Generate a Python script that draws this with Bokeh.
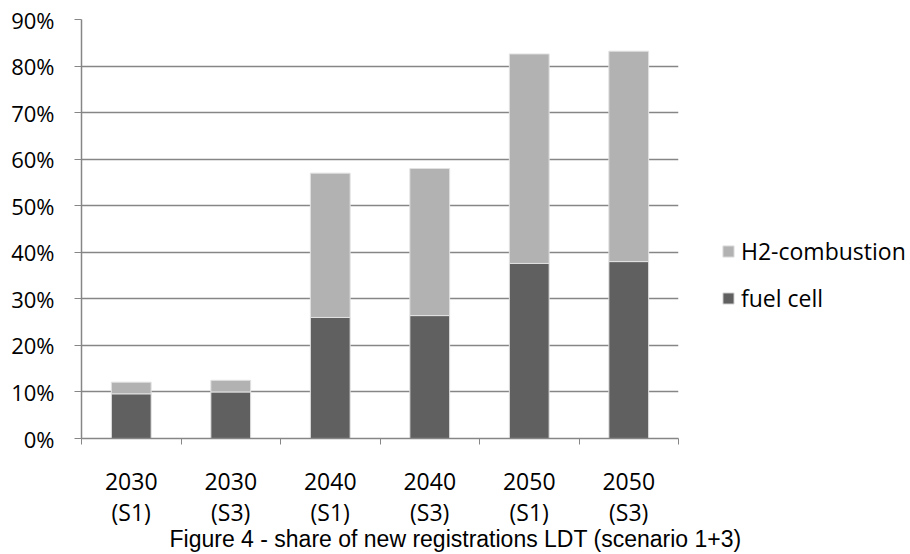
from bokeh.plotting import figure
from bokeh.models import (FixedTicker, NumeralTickFormatter, Legend, LegendItem,
                          Title, Range1d, ColumnDataSource, LinearAxis)
from bokeh.embed import file_html
from bokeh.resources import INLINE

# Share of new LDT registrations by scenario (stacked shares)
years = ["2030", "2030", "2040", "2040", "2050", "2050"]
scenarios = ["(S1)", "(S3)", "(S1)", "(S3)", "(S1)", "(S3)"]
fuel_cell = [0.096, 0.100, 0.260, 0.264, 0.376, 0.380]
h2_combustion = [0.025, 0.025, 0.310, 0.316, 0.450, 0.452]
y_ticks = [0.0, 0.1, 0.2, 0.3, 0.4, 0.5, 0.6, 0.7, 0.8, 0.9]

FONT = "Open Sans"
GRID = "#868686"

n = len(years)
x_pos = [i + 0.5 for i in range(n)]
src = ColumnDataSource(dict(x=x_pos, fuel=fuel_cell, h2=h2_combustion))

p = figure(frame_width=597, frame_height=419, output_backend="svg", toolbar_location=None,
           x_range=Range1d(0, n), y_range=Range1d(0, 0.9),
           min_border_left=81, min_border_right=232, min_border_top=19,
           min_border_bottom=116)
p.outline_line_color = None

r = p.vbar_stack(["fuel", "h2"], x="x", width=0.4, source=src,
                 color=["#606060", "#b2b2b2"], line_color="#e2e2e2", line_width=1)

# x axis, first label row (year): labels at category centres, ticks at the boundaries
xa = p.xaxis[0]
xa.ticker = FixedTicker(ticks=x_pos, minor_ticks=list(range(n + 1)))
xa.major_label_overrides = {x: s for x, s in zip(x_pos, years)}
xa.major_tick_line_color = None
xa.minor_tick_line_color = GRID
xa.minor_tick_out = 6
xa.minor_tick_in = 0
xa.axis_line_color = GRID
xa.axis_line_width = 1.5
xa.major_label_text_font = FONT
xa.major_label_text_font_size = "23px"
xa.major_label_text_color = "#000000"
xa.major_label_standoff = 28

# second label row (scenario)
xb = LinearAxis(ticker=FixedTicker(ticks=x_pos),
                major_label_overrides={x: s for x, s in zip(x_pos, scenarios)},
                axis_line_color=None, major_tick_line_color=None,
                minor_tick_line_color=None, major_tick_out=0, major_tick_in=0,
                major_label_standoff=3, major_label_text_font=FONT,
                major_label_text_font_size="23px", major_label_text_color="#000000")
p.add_layout(xb, "below")

ya = p.yaxis[0]
ya.ticker = FixedTicker(ticks=y_ticks)
ya.formatter = NumeralTickFormatter(format="0%")
ya.major_tick_line_color = GRID
ya.major_tick_out = 7
ya.major_tick_in = 0
ya.minor_tick_line_color = None
ya.axis_line_color = GRID
ya.axis_line_width = 1.5
ya.major_label_text_font = FONT
ya.major_label_text_font_size = "22px"
ya.major_label_text_color = "#000000"
ya.major_label_standoff = 20

p.xgrid.grid_line_color = None
p.ygrid.ticker = FixedTicker(ticks=y_ticks)
p.ygrid.grid_line_color = GRID
p.ygrid.grid_line_width = 1.5

legend = Legend(items=[LegendItem(label="H2-combustion", renderers=[r[1]]),
                       LegendItem(label="fuel cell", renderers=[r[0]])],
                location=(43, 124), orientation="vertical",
                glyph_width=14, glyph_height=14, label_standoff=6,
                label_height=20, spacing=15,
                padding=0, margin=0, border_line_color=None,
                background_fill_alpha=0,
                label_text_font=FONT, label_text_font_size="23px",
                label_text_color="#000000")
p.add_layout(legend, "right")

cap = Title(text="Figure 4 - share of new registrations LDT (scenario 1+3)",
            align="left", offset=88, standoff=-13, text_font="Liberation Sans",
            text_font_size="23px", text_font_style="normal", text_color="#000000")
p.add_layout(cap, "below")

open("out.html", "w").write(file_html(p, INLINE))
